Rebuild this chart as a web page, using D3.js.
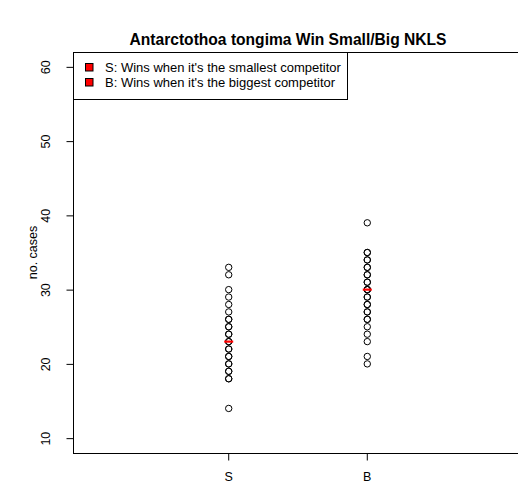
<!DOCTYPE html>
<html>
<head>
<meta charset="utf-8">
<script src="https://cdn.jsdelivr.net/npm/d3@7"></script>
<style>
  html, body { margin: 0; padding: 0; background: #fff; }
  svg { display: block; font-family: "Liberation Sans", Arial, sans-serif; }
</style>
</head>
<body>
<svg id="chart" width="518" height="484"></svg>
<script>
// Number of cases won per replicate
const categories = ["S", "B"];
const winsSmall = [14, 18, 18, 19, 19, 20, 20, 21, 21, 22, 22, 23, 23, 24, 24, 25, 25, 26, 26, 27, 28, 29, 30, 32, 33];
const winsBig = [20, 21, 23, 24, 25, 26, 26, 27, 27, 28, 28, 29, 29, 30, 30, 30, 31, 31, 32, 32, 33, 33, 34, 34, 35, 35, 39];
const yTicks = [10, 20, 30, 40, 50, 60];
const legendLabels = [
  "S: Wins when it's the smallest competitor",
  "B: Wins when it's the biggest competitor"
];
const titleText = "Antarctothoa tongima Win Small/Big NKLS";
const yLabel = "no. cases";

const series = [winsSmall, winsBig];

const svg = d3.select("#chart");
const plot = { left: 73, top: 52, right: 522, bottom: 453 };

// x positions 1 and 2 on a 0..3 range, padded 4% each side
const x = d3.scaleLinear().domain([-0.12, 3.12]).range([plot.left, plot.right]);
const y = d3.scaleLinear().domain([8, 62]).range([plot.bottom, plot.top]);

// Plot frame
svg.append("rect")
  .attr("x", plot.left + 0.5).attr("y", plot.top + 0.5)
  .attr("width", plot.right - plot.left).attr("height", plot.bottom - plot.top)
  .attr("fill", "none").attr("stroke", "#000").attr("stroke-width", 1);

// Y axis
const yAxis = d3.axisLeft(y).tickValues(yTicks).tickSize(7).tickPadding(5).tickSizeOuter(0);
const gy = svg.append("g").attr("transform", `translate(${plot.left + 0.5},0)`).call(yAxis);
gy.select(".domain").attr("d", `M0,${y(10)}V${y(60)}`).attr("stroke", "#000");
gy.selectAll(".tick line").attr("stroke", "#000");
gy.selectAll(".tick text")
  .attr("font-size", 12.5).attr("fill", "#000")
  .attr("transform", "rotate(-90, -24, 0)")
  .attr("x", -24).attr("dy", "0").attr("y", 0)
  .attr("text-anchor", "middle");

// X axis
const xAxis = d3.axisBottom(x).tickValues([1, 2]).tickFormat((d, i) => categories[i])
  .tickSize(7).tickPadding(12).tickSizeOuter(0);
const gx = svg.append("g").attr("transform", `translate(0,${plot.bottom + 0.5})`).call(xAxis);
gx.select(".domain").attr("d", `M${x(1)},0H${x(2)}`).attr("stroke", "#000");
gx.selectAll(".tick line").attr("stroke", "#000");
gx.selectAll(".tick text").attr("font-size", 12.5).attr("fill", "#000");

// Points
series.forEach((vals, i) => {
  svg.append("g").selectAll("circle")
    .data(vals)
    .join("circle")
    .attr("cx", x(i + 1) + 0.5)
    .attr("cy", d => y(d))
    .attr("r", 3.2)
    .attr("fill", "none")
    .attr("stroke", "#000")
    .attr("stroke-width", 1);
});

// Median markers
series.forEach((vals, i) => {
  const m = d3.median(vals);
  svg.append("line")
    .attr("x1", x(i + 1) - 4).attr("x2", x(i + 1) + 5)
    .attr("y1", y(m)).attr("y2", y(m))
    .attr("stroke", "#ff0000").attr("stroke-width", 2.2);
});

// Title
svg.append("text")
  .attr("x", 288).attr("y", 45)
  .attr("text-anchor", "middle")
  .attr("font-size", 15.6).attr("font-weight", "bold")
  .text(titleText);

// Y label
svg.append("text")
  .attr("transform", `translate(37,${(plot.top + plot.bottom) / 2}) rotate(-90)`)
  .attr("text-anchor", "middle")
  .attr("font-size", 12.5)
  .text(yLabel);

// Legend
const lg = svg.append("g");
lg.append("rect")
  .attr("x", plot.left + 0.5).attr("y", plot.top + 0.5)
  .attr("width", 274).attr("height", 47)
  .attr("fill", "#fff").attr("stroke", "#000");
legendLabels.forEach((t, i) => {
  const cy = 67 + i * 15;
  lg.append("rect")
    .attr("x", 85.5).attr("y", cy - 3.5).attr("width", 7.5).attr("height", 7.5)
    .attr("fill", "#ff0000").attr("stroke", "#000").attr("stroke-width", 1);
  lg.append("text")
    .attr("x", 105).attr("y", cy + 4.5)
    .attr("font-size", 13)
    .text(t);
});
</script>
</body>
</html>
